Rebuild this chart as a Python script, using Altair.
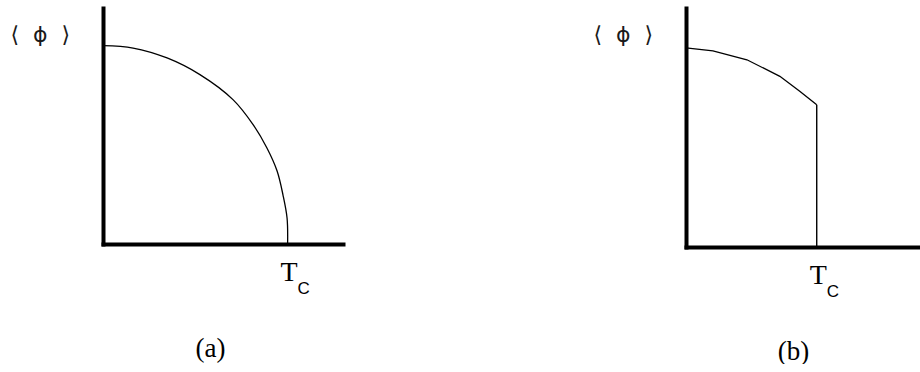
import altair as alt
import pandas as pd

# Panel (a): continuous transition - order parameter falls smoothly to zero at Tc
t_a = [0.0, 0.163, 0.347, 0.525, 0.704, 0.813, 0.888, 0.943, 0.975, 0.997, 1.0]
phi_a = [1.0, 0.988, 0.938, 0.854, 0.728, 0.602, 0.484, 0.368, 0.247, 0.131, 0.0]

# Panel (b): discontinuous transition - order parameter jumps to zero at Tc
t_b = [0.0, 0.206, 0.466, 0.718, 0.870, 1.0]
phi_b = [1.0, 0.985, 0.940, 0.857, 0.782, 0.714]
jump_b = [0.714]

tc = [1.0]
tc_label = "T"
tc_subscript = "C"
# non-breaking spaces keep the wide gaps inside the angle brackets
y_title = "⟨\u00a0\u00a0ϕ\u00a0\u00a0⟩"
panel_titles = ["(a)", "(b)"]

SERIF = "Liberation Serif"
SANS = "Liberation Sans"


def axes(x_max, y_max, title):
    x_axis = alt.Axis(
        values=tc, labelExpr=f"'{tc_label}'", grid=False, ticks=False, tickSize=0,
        domain=True, domainColor="black", domainWidth=4, domainCap="square",
        labelFont=SERIF, labelFontSize=28, labelColor="black",
        labelBaseline="top", labelPadding=14, labelFlush=False, labelOffset=1,
        title=title, titleFont=SERIF, titleFontSize=27, titleFontWeight="normal",
        titleColor="black", titleX=107, titleY=104, titleAlign="center",
        titleBaseline="middle",
    )
    y_axis = alt.Axis(
        values=[], labels=False, grid=False, ticks=False, tickSize=0,
        domain=True, domainColor="black", domainWidth=4, domainCap="square",
        title=y_title, titleFont="DejaVu Sans", titleFontSize=22,
        titleFontWeight="normal", titleColor="#1a1a1a", titleAngle=0,
        titleX=-93, titleY=26, titleAlign="left", titleBaseline="middle",
    )
    x_scale = alt.Scale(domain=[0, x_max], nice=False, zero=True)
    y_scale = alt.Scale(domain=[0, y_max], nice=False, zero=True)
    return x_axis, y_axis, x_scale, y_scale


def subscript(x_scale, y_scale, x_axis, y_axis):
    sub_df = pd.DataFrame({"T": tc, "phi": [0.0], "txt": [tc_subscript]})
    return alt.Chart(sub_df).mark_text(
        font=SANS, fontSize=17, color="black", align="left", baseline="middle",
        dx=10, dy=45,
    ).encode(
        x=alt.X("T:Q", scale=x_scale, axis=x_axis),
        y=alt.Y("phi:Q", scale=y_scale, axis=y_axis),
        text="txt:N",
    )


# (a) smooth curve ending vertically at Tc
xa_axis, ya_axis, xa_scale, ya_scale = axes(1.3, 1.19, panel_titles[0])
curve_a = alt.Chart(
    pd.DataFrame({"T": t_a, "phi": phi_a, "order": list(range(len(t_a)))})
).mark_line(color="black", strokeWidth=1.3, interpolate="catmull-rom").encode(
    x=alt.X("T:Q", scale=xa_scale, axis=xa_axis),
    y=alt.Y("phi:Q", scale=ya_scale, axis=ya_axis),
    order="order:Q",
)
left = alt.layer(curve_a, subscript(xa_scale, ya_scale, xa_axis, ya_axis)).properties(
    width=240, height=236
)

# (b) curve up to Tc, then a vertical drop to zero
xb_axis, yb_axis, xb_scale, yb_scale = axes(1.79, 1.20, panel_titles[1])
curve_b = alt.Chart(
    pd.DataFrame({"T": t_b, "phi": phi_b, "order": list(range(len(t_b)))})
).mark_line(color="black", strokeWidth=1.3).encode(
    x=alt.X("T:Q", scale=xb_scale, axis=xb_axis),
    y=alt.Y("phi:Q", scale=yb_scale, axis=yb_axis),
    order="order:Q",
)
drop_b = alt.Chart(
    pd.DataFrame({"T": tc, "lo": [0.0], "hi": jump_b})
).mark_rule(color="black", strokeWidth=1.4).encode(
    x=alt.X("T:Q", scale=xb_scale, axis=xb_axis),
    y=alt.Y("lo:Q", scale=yb_scale, axis=yb_axis),
    y2="hi:Q",
)
right = alt.layer(curve_b, drop_b, subscript(xb_scale, yb_scale, xb_axis, yb_axis)).properties(
    width=234, height=239
)

chart = (
    alt.hconcat(left, right, spacing=343, bounds="flush")
    .properties(padding={"left": 10, "top": 8, "right": 0, "bottom": 0}, background="white")
    .configure_view(stroke=None)
)

chart.save("out.html", embed_options={"renderer": "svg", "actions": False})
